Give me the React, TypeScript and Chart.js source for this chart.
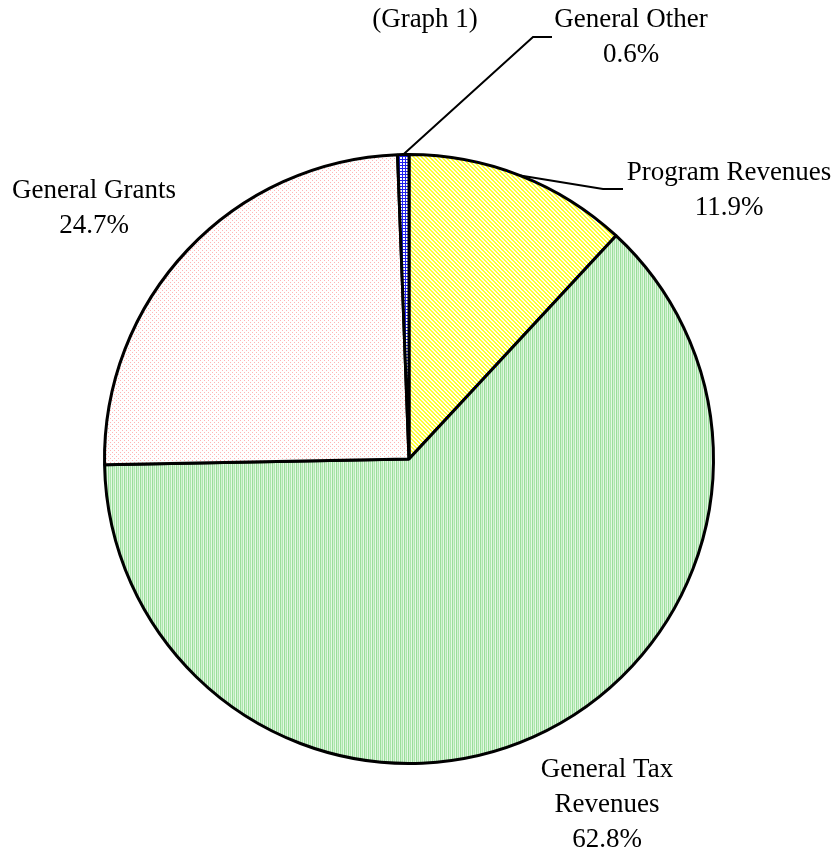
import React, { useEffect, useRef } from "react";
import { Chart, registerables } from "chart.js";

Chart.register(...registerables);

const categories = ["Program Revenues", "General Tax Revenues", "General Grants", "General Other"];
const values = [11.9, 62.8, 24.7, 0.6];
const labelLines = [
  ["Program Revenues", "11.9%"],
  ["General Tax", "Revenues", "62.8%"],
  ["General Grants", "24.7%"],
  ["General Other", "0.6%"],
];
const title = "(Graph 1)";

function makePattern(size: number, painter: (x: number, y: number) => string): CanvasPattern | string {
  const c = document.createElement("canvas");
  c.width = size;
  c.height = size;
  const ctx = c.getContext("2d");
  if (!ctx) return "#fff";
  for (let y = 0; y < size; y++) {
    for (let x = 0; x < size; x++) {
      ctx.fillStyle = painter(x, y);
      ctx.fillRect(x, y, 1, 1);
    }
  }
  const p = ctx.createPattern(c, "repeat");
  return p || "#fff";
}

export default function App() {
  const ref = useRef<HTMLCanvasElement | null>(null);

  useEffect(() => {
    if (!ref.current) return;
    const yellow = makePattern(4, (x, y) => (((x - y + 8) % 4) < 2 ? "#FFFF30" : "#FFFFEC"));
    const greens = ["#9ADE9A", "#D2F3D2", "#AEE5AE", "#E4F8E4"];
    const green = makePattern(4, (x) => greens[x % 4]);
    const pink = makePattern(4, (x, y) => ((x === 0 && y === 0) || (x === 2 && y === 2) ? "#FFB4B4" : "#FFFFFF"));
    const blue = makePattern(3, (x, y) => (x === 0 || y === 0 ? "#2020F0" : "#FFFFFF"));

    const labelPlugin = {
      id: "labelPlugin",
      afterDraw(chart: any) {
        const ctx = chart.ctx as CanvasRenderingContext2D;
        const meta = chart.getDatasetMeta(0);
        ctx.save();
        ctx.font = '27px "Liberation Serif", "Times New Roman", serif';
        ctx.fillStyle = "#000";
        ctx.textAlign = "center";
        ctx.textBaseline = "alphabetic";
        ctx.fillText(title, 425, 27);

        const pos = [
          { x: 729, y: 180 },
          { x: 607, y: 777 },
          { x: 94, y: 198 },
          { x: 631, y: 27 },
        ];
        labelLines.forEach((lines, i) => {
          lines.forEach((t, j) => ctx.fillText(t, pos[i].x, pos[i].y + j * 35));
        });

        // leader lines
        ctx.strokeStyle = "#000";
        ctx.lineWidth = 2;
        const arcPoint = (i: number) => {
          const a = meta.data[i];
          const mid = (a.startAngle + a.endAngle) / 2;
          return { x: a.x + Math.cos(mid) * a.outerRadius, y: a.y + Math.sin(mid) * a.outerRadius };
        };
        const p0 = arcPoint(0);
        ctx.beginPath();
        ctx.moveTo(p0.x, p0.y);
        ctx.lineTo(603, 189);
        ctx.lineTo(623, 189);
        ctx.stroke();
        const p3 = arcPoint(3);
        ctx.beginPath();
        ctx.moveTo(p3.x, p3.y);
        ctx.lineTo(533, 37);
        ctx.lineTo(552, 37);
        ctx.stroke();
        ctx.restore();
      },
    };

    const chart = new Chart(ref.current, {
      type: "pie",
      data: {
        labels: categories,
        datasets: [
          {
            data: values,
            backgroundColor: [yellow, green, pink, blue] as any,
            borderColor: "#000",
            borderWidth: 3,
          },
        ],
      },
      options: {
        animation: false,
        responsive: false,
        devicePixelRatio: 1,
        layout: { padding: { left: 103, top: 153, right: 121, bottom: 87 } },
        plugins: { legend: { display: false }, tooltip: { enabled: false } },
      },
      plugins: [labelPlugin],
    });
    return () => chart.destroy();
  }, []);

  return (
    <div style={{ position: "fixed", left: 0, top: 0, width: 836, height: 852, background: "#fff" }}>
      <canvas ref={ref} width={836} height={852} style={{ width: 836, height: 852 }} />
    </div>
  );
}
